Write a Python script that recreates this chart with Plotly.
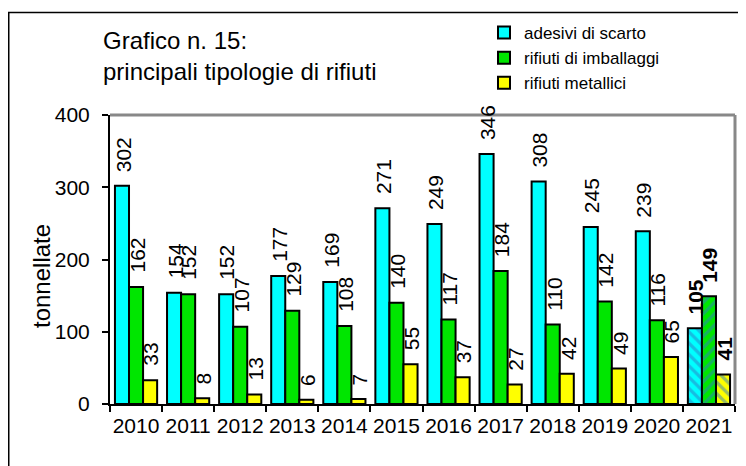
import plotly.graph_objects as go

years = ["2010", "2011", "2012", "2013", "2014", "2015", "2016", "2017", "2018", "2019", "2020", "2021"]
adesivi = [302, 154, 152, 177, 169, 271, 249, 346, 308, 245, 239, 105]
imballaggi = [162, 152, 107, 129, 108, 140, 117, 184, 110, 142, 116, 149]
metallici = [33, 8, 13, 6, 7, 55, 37, 27, 42, 49, 65, 41]
series_names = ["adesivi di scarto", "rifiuti di imballaggi", "rifiuti metallici"]
colors = ["#00FFFF", "#00E600", "#FFFF00"]
hatch = ["\\", "/", "\\"]
last_year = "2021"

FONT = "Liberation Sans, Arial, sans-serif"
OFF = 8  # page offset of the figure inside the browser window
W, H = 746 - OFF, 466 - OFF
ML, MR, MT, MB = 110 - OFF, 11, 115 - OFF, 62
PW, PH = W - ML - MR, H - MT - MB
BARGAP = 0.19


def px_x(page_x):
    return (page_x - OFF - ML) / PW


def px_y(page_y):
    return (H - MB - (page_y - OFF)) / PH


fig = go.Figure()
all_series = [adesivi, imballaggi, metallici]
for i, (name, vals, col) in enumerate(zip(series_names, all_series, colors)):
    xs = [y for y in years if y != last_year]
    vs = [v for y, v in zip(years, vals) if y != last_year]
    fig.add_trace(go.Bar(
        x=xs, y=vs, name=name, offsetgroup=str(i),
        marker=dict(color=col, line=dict(color="black", width=2)),
    ))
for i, (name, vals, col) in enumerate(zip(series_names, all_series, colors)):
    xs = [y for y in years if y == last_year]
    vs = [v for y, v in zip(years, vals) if y == last_year]
    fig.add_trace(go.Bar(
        x=xs, y=vs, name=name, offsetgroup=str(i), showlegend=False,
        marker=dict(color=col, line=dict(color="black", width=2),
                    pattern=dict(shape=hatch[i], fgcolor="#2E7BC4", size=8, solidity=0.4)),
    ))

annotations = []
bar_w = PW / len(years) * (1 - BARGAP) / 3
for i, vals in enumerate(all_series):
    for k, (y, v) in enumerate(zip(years, vals)):
        txt = f"<b>{v}</b>" if y == last_year else str(v)
        annotations.append(dict(
            x=k, y=v, xref="x", yref="y", text=txt, showarrow=False,
            textangle=-90, xanchor="center", yanchor="bottom",
            xshift=(i - 1) * bar_w + 1, yshift=12,
            font=dict(family=FONT, size=21, color="black"),
        ))

annotations.append(dict(
    x=px_x(101), y=px_y(25), xref="paper", yref="paper",
    text="Grafico n. 15:<br>principali tipologie di rifiuti", showarrow=False,
    xanchor="left", yanchor="top", align="left",
    font=dict(family=FONT, size=24, color="black"),
))
annotations.append(dict(
    x=px_x(41), y=px_y(276), xref="paper", yref="paper",
    text="tonnellate", showarrow=False, textangle=-90,
    xanchor="center", yanchor="middle",
    font=dict(family=FONT, size=24, color="black"),
))

shapes = [
    dict(type="line", xref="paper", yref="paper", x0=0, x1=1, y0=1, y1=1,
         line=dict(color="#888888", width=3)),
    dict(type="line", xref="paper", yref="paper", x0=1, x1=1, y0=0, y1=1,
         line=dict(color="#888888", width=3)),
    dict(type="rect", xref="paper", yref="paper",
         x0=px_x(OFF + 0.75), x1=1.2, y0=px_y(12.5), y1=-0.4,
         line=dict(color="black", width=1.5)),
]

fig.update_layout(
    width=W, height=H,
    margin=dict(l=ML, r=MR, t=MT, b=MB, pad=0, autoexpand=False),
    paper_bgcolor="white", plot_bgcolor="white",
    barmode="group", bargap=BARGAP, bargroupgap=0,
    font=dict(family=FONT, size=20, color="black"),
    showlegend=True,
    legend=dict(x=px_x(484), y=px_y(15), xanchor="left", yanchor="top",
                bgcolor="rgba(0,0,0,0)", font=dict(family=FONT, size=17, color="black"),
                tracegroupgap=0, itemwidth=30),
    xaxis=dict(type="category", categoryorder="array", categoryarray=years,
               range=[-0.5, len(years) - 0.5], autorange=False,
               showline=True, linecolor="black", linewidth=2,
               ticks="outside", tickson="boundaries", ticklen=6, tickcolor="black",
               tickwidth=1.5, showgrid=False, zeroline=False, tickangle=0,
               tickfont=dict(family=FONT, size=21, color="black"), ticklabelstandoff=2),
    yaxis=dict(range=[0, 400], dtick=100, showline=True, linecolor="black", linewidth=2,
               ticks="outside", ticklen=6, tickcolor="black", tickwidth=1.5,
               showgrid=False, zeroline=False,
               tickfont=dict(family=FONT, size=21, color="black"), ticklabelstandoff=8),
    annotations=annotations,
    shapes=shapes,
)

fig.write_html("out.html")
